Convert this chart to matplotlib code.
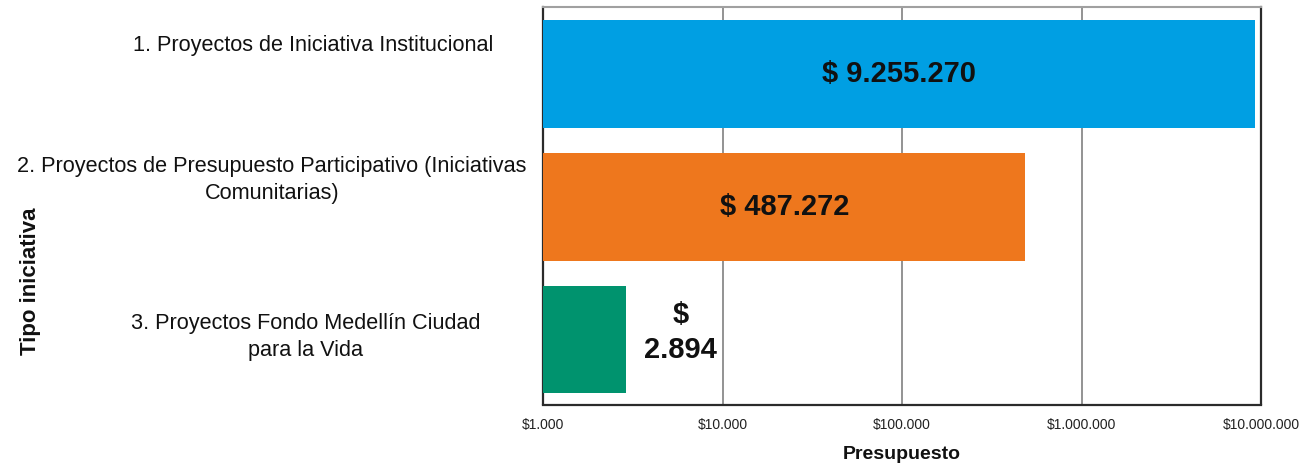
import matplotlib
matplotlib.use("Agg")
import matplotlib.pyplot as plt
from matplotlib.ticker import FixedLocator
import numpy as np

plt.rcParams['font.family'] = ['Liberation Sans', 'DejaVu Sans']

categories = [
    "1. Proyectos de Iniciativa Institucional",
    "2. Proyectos de Presupuesto Participativo (Iniciativas\nComunitarias)",
    "3. Proyectos Fondo Medellín Ciudad\npara la Vida",
]
values = [9255270, 487272, 2894]
value_labels = ["$ 9.255.270", "$ 487.272", "$\n2.894"]
colors = ["#009FE3", "#EE771D", "#00936E"]
xticks = [1e3, 1e4, 1e5, 1e6, 1e7]
xtick_labels = ["$1.000", "$10.000", "$100.000", "$1.000.000", "$10.000.000"]
x_title = "Presupuesto"
y_title = "Tipo iniciativa"

W, H = 1301, 465
fig = plt.figure(figsize=(W / 100, H / 100), dpi=100)
ax = fig.add_axes([543 / W, 1 - 404.5 / H, (1261 - 543) / W, (404.5 - 7) / H])

ypos = np.arange(len(categories))
ax.barh(ypos, values, height=0.812, left=0, color=colors, zorder=3)
ax.set_xscale('log')
ax.set_xlim(1e3, 1e7)
ax.set_ylim(2.49, -0.504)

ax.xaxis.set_major_locator(FixedLocator(xticks))
ax.xaxis.set_minor_locator(FixedLocator([]))
ax.set_xticklabels(xtick_labels, fontsize=10, family=['Liberation Sans Narrow', 'Liberation Sans'])
ax.tick_params(axis='x', length=0, pad=10, colors='#222222')
ax.set_yticks([])
ax.grid(axis='x', color='#808080', linewidth=1.2, zorder=1)

for side in ['left', 'bottom', 'right']:
    ax.spines[side].set_color('#2b2b2b')
    ax.spines[side].set_linewidth(1.6)
ax.spines['top'].set_color('#a0a0a0')
ax.spines['top'].set_linewidth(1.5)

# value labels
for i, (v, lab) in enumerate(zip(values, value_labels)):
    if i < 2:
        ax.text(np.sqrt(1e3 * v), ypos[i], lab, ha='center', va='center',
                fontsize=21, fontweight='bold', color='#111111', zorder=4)
    else:
        ax.annotate(lab, xy=(v, ypos[i]), xytext=(39.5, 5), textcoords='offset points',
                    ha='center', va='center', fontsize=21, fontweight='bold',
                    color='#111111', linespacing=1.3, zorder=4)

# category labels
label_x = [313 / W, 272 / W, 306 / W]
label_y = [46, 180, 337]
for lab, lx, ly in zip(categories, label_x, label_y):
    fig.text(lx, 1 - ly / H, lab, ha='center', va='center', fontsize=15.6,
             color='#111111', multialignment='center', linespacing=1.35)

fig.text(902 / W, 1 - 454 / H, x_title, ha='center', va='center', fontsize=14,
         fontweight='bold', color='#111111')
fig.text(31 / W, 1 - 281 / H, y_title, ha='center', va='center', fontsize=16,
         fontweight='bold', color='#111111', rotation=90)

fig.savefig("out.png", dpi=100)
